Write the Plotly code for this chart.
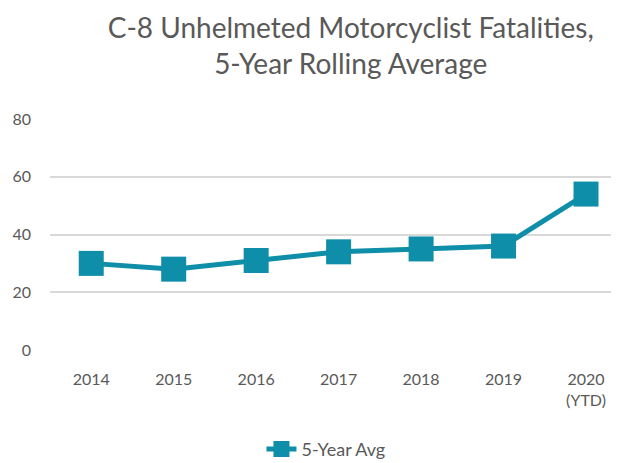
import plotly.graph_objects as go

categories = ["2014", "2015", "2016", "2017", "2018", "2019", "2020<br>(YTD)"]
values = [30, 28, 31, 34, 35, 36, 54]
y_ticks = [0, 20, 40, 60, 80]
series_name = "5-Year Avg"
title_text = "C-8 Unhelmeted Motorcyclist Fatalities,<br>5-Year Rolling Average"

color = "#0E8EA8"
grey = "#595959"
font_family = "Lato, 'Open Sans', sans-serif"

fig = go.Figure()
fig.add_trace(go.Scatter(
    x=list(range(len(categories))),
    y=values,
    mode="lines+markers",
    name=series_name,
    line=dict(color=color, width=5),
    marker=dict(symbol="square", size=25, color=color),
))

# The page body has an 8px default margin; the figure is sized to fill the
# remaining window area.
fig.update_layout(
    width=611, height=455,
    paper_bgcolor="white", plot_bgcolor="white",
    margin=dict(l=42, r=0, t=111, b=113, autoexpand=False),
    font=dict(family=font_family, color=grey, size=16),
    title=dict(text=title_text, x=0.561, xanchor="center", y=0.935, yanchor="middle",
               font=dict(size=28, color=grey, family=font_family)),
    xaxis=dict(
        tickmode="array", tickvals=list(range(len(categories))), ticktext=categories,
        range=[-0.5, 6.4], showgrid=False, zeroline=False, showline=False,
        ticks="", ticklabelstandoff=18, tickfont=dict(size=16, color=grey), automargin=False,
    ),
    yaxis=dict(
        range=[0, 80], tickmode="array", tickvals=y_ticks,
        showgrid=True, gridcolor="#D9D9D9", gridwidth=1.5,
        zeroline=False, showline=False, ticks="", ticklabelstandoff=18,
        tickfont=dict(size=16, color=grey), automargin=False,
    ),
    showlegend=True,
    legend=dict(orientation="h", x=0.485, xanchor="center", y=-0.43, yanchor="middle",
                font=dict(size=18, color=grey)),
)

fig.write_html("out.html")
